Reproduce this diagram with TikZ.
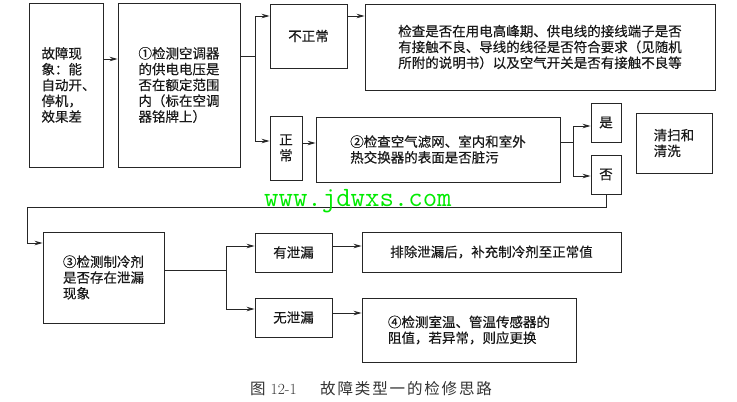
\documentclass[tikz,border=0pt]{standalone}
\usepackage{fontspec}
\newfontfamily\cjk[FakeBold=0.35]{Noto Sans CJK SC}
\newfontfamily\plaincjk{Noto Sans CJK SC}
\newfontfamily\capcjk[LetterSpace=12]{Noto Sans CJK SC}
\usetikzlibrary{arrows.meta}
\begin{document}
\begin{tikzpicture}[x=1pt,y=-1pt,
  box/.style={draw=black!85,line width=0.9pt,inner sep=0pt,align=left,
    font=\cjk\fontsize{13.5}{15.8}\selectfont,text=black!90},
  arr/.style={draw=black!85,line width=0.9pt,-{Stealth[length=8pt,width=4.5pt]}},
  ln/.style={draw=black!85,line width=0.9pt}]
\fill[white] (0,0) rectangle (737,402);
\useasboundingbox (0,0) rectangle (737,402);

% boxes
\node[box,minimum width=74pt,minimum height=164pt] (a) at (66,85)
  {\hspace*{5pt}故障现\\\hspace*{5pt}象：能\\\hspace*{5pt}自动开、\\\hspace*{5pt}停机，\\\hspace*{5pt}效果差};
\node[box,minimum width=122pt,minimum height=164pt] (b) at (179,85)
  {①检测空调器\\的供电电压是\\否在额定范围\\内（标在空调\\器铭牌上）};
\node[box,minimum width=77pt,minimum height=64pt] (bzc) at (308.5,36) {不正常};
\node[box,minimum width=350pt,minimum height=86pt] (big) at (540,47)
  {检查是否在用电高峰期、供电线的接线端子是否\\有接触不良、导线的线径是否符合要求（见随机\\所附的说明书）以及空气开关是否有接触不良等};
\node[box,minimum width=32pt,minimum height=64pt] (zc) at (286,148) {正\\常};
\node[box,minimum width=244pt,minimum height=65pt] (c2) at (438,149.5)
  {②检查空气滤网、室内和室外\\热交换器的表面是否脏污};
\node[box,minimum width=30pt,minimum height=39pt] (shi) at (606,122.5) {是};
\node[box,minimum width=30pt,minimum height=39pt] (fou) at (606,174.5) {否};
\node[box,minimum width=76pt,minimum height=60pt] (qs) at (674,143) {清扫和\\清洗};
\node[box,minimum width=121pt,minimum height=91pt] (c3) at (103.5,277.5)
  {③检测制冷剂\\是否存在泄漏\\现象};
\node[box,minimum width=77pt,minimum height=39pt] (yx) at (293.5,252.5) {有泄漏};
\node[box,minimum width=77pt,minimum height=39pt] (wx) at (293.5,317.5) {无泄漏};
\node[box,minimum width=259pt,minimum height=40pt] (pc) at (491.5,252)
  {排除泄漏后，补充制冷剂至正常值};
\node[box,minimum width=214pt,minimum height=64pt] (c4) at (469,330)
  {④检测室温、管温传感器的\\阻值，若异常，则应更换};

% connectors
\coordinate (pa) at ([yshift=26pt]a.east);
\draw[arr] (pa) -- (pa -| b.west);

\coordinate (pb) at ([yshift=29pt]b.east);
\coordinate (j1) at (255,56);
\coordinate (pbzc) at ([yshift=20pt]bzc.west);
\coordinate (pzc) at ([yshift=7pt]zc.west);
\draw[ln] (pb) -- (j1);
\draw[arr] (j1) |- (pbzc);
\draw[arr] (j1) |- (pzc);

\coordinate (pbzce) at ([yshift=20pt]bzc.east);
\draw[arr] (pbzce) -- (pbzce -| big.west);

\coordinate (pzce) at ([yshift=5pt]zc.east);
\draw[arr] (pzce) -- (pzce -| c2.west);

\coordinate (pc2) at ([yshift=7.5pt]c2.east);
\coordinate (j2) at (573,142);
\coordinate (pshi) at ([yshift=-3.5pt]shi.west);
\coordinate (pfou) at ([yshift=-1.5pt]fou.west);
\draw[ln] (pc2) -- (j2);
\draw[arr] (j2) |- (pshi);
\draw[arr] (j2) |- (pfou);

\coordinate (lp) at (27,207);
\coordinate (pc3) at ([yshift=34.5pt]c3.west);
\draw[arr] (fou.south) |- (lp) |- (pc3);

\coordinate (pc3e) at ([yshift=7.5pt]c3.east);
\coordinate (j3) at (226,270);
\coordinate (pyx) at ([yshift=6.5pt]yx.west);
\coordinate (pwx) at ([yshift=8.5pt]wx.west);
\draw[ln] (pc3e) -- (j3);
\draw[arr] (j3) |- (pyx);
\draw[arr] (j3) |- (pwx);

\coordinate (pyxe) at ([yshift=6.5pt]yx.east);
\draw[arr] (pyxe) -- (pyxe -| pc.west);
\coordinate (pwxe) at ([yshift=4.5pt]wx.east);
\draw[arr] (pwxe) -- (pwxe -| c4.west);

% watermark
\node[anchor=base west,inner sep=0pt,text={rgb,255:red,0;green,235;blue,0},
  font=\ttfamily\fontsize{28}{28}\selectfont] (wm) at (264,206) {www.jdwxs.com};

% caption
\node[anchor=west,inner sep=0pt,text=black!80,font=\fontsize{15.5}{15.5}\selectfont] (cap) at (250,389)
  {\makebox[70pt][l]{\plaincjk 图\hspace{5pt}\rmfamily 12-1}\capcjk 故障类型一的检修思路};
\end{tikzpicture}
\end{document}
